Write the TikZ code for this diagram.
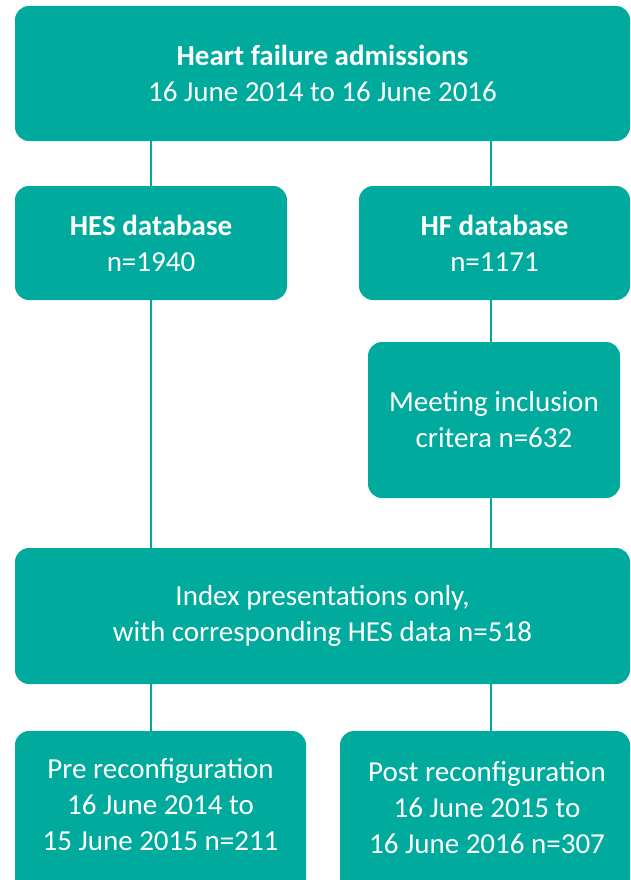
\documentclass[tikz,border=0pt]{standalone}
\usepackage{fontspec}
\setmainfont{Carlito}
\definecolor{teal1}{RGB}{0,171,158}
\begin{document}
\begin{tikzpicture}[x=1pt,y=-1pt,
  box/.style={fill=teal1,draw=none,rounded corners=14pt,inner sep=0pt,text=white,align=center,
    font=\fontsize{29}{36}\selectfont},
  txt/.style={text=white,align=center,inner sep=0pt,font=\fontsize{29}{36}\selectfont},
  conn/.style={draw=teal1,line width=2pt}]
\useasboundingbox (0,0) rectangle (631,880);
\clip (0,0) rectangle (631,880);
\fill[white] (0,0) rectangle (631,880);
\coordinate (lx) at (151,0);
\coordinate (rx) at (491,0);
\node[box,minimum width=615pt,minimum height=135pt] (top) at (322.5,73.5)
  {\textbf{Heart failure admissions}\\16 June 2014 to 16 June 2016};
\node[box,minimum width=272pt,minimum height=114pt] (hes) at (151,243)
  {\textbf{HES database}\\n=1940};
\node[box,minimum width=271pt,minimum height=114pt] (hf) at (494.5,243)
  {\textbf{HF database}\\n=1171};
\node[box,minimum width=252pt,minimum height=156pt] (meet) at (494,420)
  {Meeting inclusion\\critera n=632};
\node[box,minimum width=615pt,minimum height=136pt] (index) at (322.5,616)
  {Index presentations only,\\with corresponding HES data n=518};
\node[box,minimum width=291pt,minimum height=170pt] (pre) at (160.5,816) {};
\node[txt] (pretext) at (160.5,805) {Pre reconfiguration\\16 June 2014 to\\15 June 2015 n=211};
\node[box,minimum width=290pt,minimum height=170pt] (post) at (485,816) {};
\node[txt] (posttext) at (487,808) {Post reconfiguration\\16 June 2015 to\\16 June 2016 n=307};
\draw[conn] (top.south -| lx) -- (hes.north -| lx);
\draw[conn] (top.south -| rx) -- (hf.north -| rx);
\draw[conn] (hf.south -| rx) -- (meet.north -| rx);
\draw[conn] (hes.south -| lx) -- (index.north -| lx);
\draw[conn] (meet.south -| rx) -- (index.north -| rx);
\draw[conn] (index.south -| lx) -- (pre.north -| lx);
\draw[conn] (index.south -| rx) -- (post.north -| rx);
\end{tikzpicture}
\end{document}
